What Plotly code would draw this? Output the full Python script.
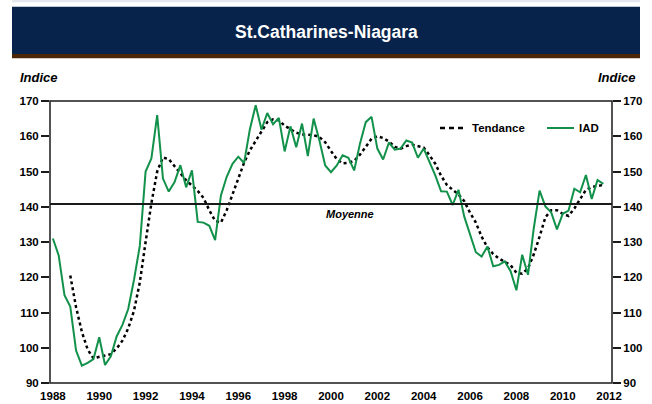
import plotly.graph_objects as go

# ---------------- data ----------------
START_YEAR = 1988
N_QUARTERS = 96  # 1988Q1 .. 2011Q4

iad = [131.0, 126.2, 114.9, 111.7, 99.2, 94.9, 95.7, 96.8, 103.0, 95.1,
       97.6, 103.2, 106.5, 111.0, 119.3, 128.9, 150.0, 153.7, 166.0, 148.0,
       144.3, 147.0, 151.8, 145.5, 150.3, 135.7, 135.5, 134.6, 130.5, 143.2,
       148.5, 152.2, 154.2, 152.4, 162.0, 168.8, 161.9, 166.6, 163.4, 165.2,
       155.7, 162.8, 156.9, 163.6, 154.4, 165.0, 158.8, 151.7, 149.8, 151.7,
       154.6, 153.9, 150.3, 157.9, 164.0, 165.5, 156.5, 153.4, 158.2, 156.2,
       156.5, 158.8, 158.2, 153.9, 156.5, 152.7, 148.9, 144.4, 144.3, 140.5,
       144.8, 137.2, 132.0, 127.1, 125.9, 128.7, 123.1, 123.5, 124.5, 121.7,
       116.3, 126.4, 120.7, 133.9, 144.6, 140.1, 138.4, 133.6, 138.0, 138.9,
       145.1, 144.1, 149.0, 142.2, 147.6, 146.5]

tendance = [None, None, None, 120.5, 111.5, 104.5, 99.5, 97.0, 97.3, 97.8,
            98.2, 99.8, 102.0, 105.5, 110.5, 118.5, 130.0, 141.0, 150.0, 154.0,
            153.5, 151.5, 149.5, 147.5, 146.0, 144.5, 142.5, 139.0, 136.0, 135.5,
            139.0, 143.5, 148.0, 152.5, 156.0, 158.8, 161.5, 164.0, 164.8, 164.5,
            163.0, 162.0, 161.0, 160.5, 160.3, 160.3, 159.8, 158.3, 155.8, 153.5,
            152.3, 152.5, 153.0, 154.8, 157.0, 159.3, 160.0, 159.5, 158.5, 157.0,
            156.5, 157.2, 157.6, 157.3, 156.8, 154.6, 152.2, 148.8, 146.2, 144.8,
            143.5, 141.6, 138.3, 135.5, 131.5, 128.5, 126.6, 125.3, 124.4, 123.4,
            121.3, 121.0, 122.5, 126.5, 131.5, 137.0, 139.0, 139.0, 138.0, 137.4,
            139.5, 142.3, 144.8, 145.6, 146.0, 146.2]

moyenne = 140.8

year_ticks = list(range(1988, 2013, 2))
y_ticks = list(range(90, 171, 10))

title_text = "St.Catharines-Niagara"
axis_label = "Indice"
mean_label = "Moyenne"
legend_labels = ["Tendance", "IAD"]

# quarterly positions
x = [START_YEAR + i / 4 for i in range(N_QUARTERS)]

# ---------------- layout geometry ----------------
W, H = 652, 404
L, R, T, B = 50, 40, 101, 21


def px(v):
    return (v - L) / (W - L - R)


def py(v):
    return (H - B - v) / (H - T - B)


GREEN = "#12914A"
NAVY = "#08234B"
BROWN = "#4A2606"
FONT = "Liberation Sans, Arial, sans-serif"

fig = go.Figure()

fig.add_trace(go.Scatter(
    x=x, y=tendance, mode="lines", name=legend_labels[0],
    line=dict(color="black", width=2.5, dash="3px,3px"),
    connectgaps=False, showlegend=False, yaxis="y"))

fig.add_trace(go.Scatter(
    x=x, y=iad, mode="lines", name=legend_labels[1],
    line=dict(color=GREEN, width=2), showlegend=False, yaxis="y"))

# invisible trace for right axis
fig.add_trace(go.Scatter(x=[x[0]], y=[moyenne], mode="markers",
                         marker=dict(opacity=0), yaxis="y2",
                         showlegend=False, hoverinfo="skip"))

shapes = []
# mean line
shapes.append(dict(type="line", xref="paper", yref="y", x0=0, x1=1,
                   y0=moyenne, y1=moyenne,
                   line=dict(color="#1a1a1a", width=2)))
# plot frame
shapes.append(dict(type="rect", xref="paper", yref="paper", x0=0, x1=1,
                   y0=0, y1=1, line=dict(color="#1a1a1a", width=1.5)))
# header
shapes.append(dict(type="rect", xref="paper", yref="paper",
                   x0=px(12), x1=px(640), y0=py(0), y1=py(2.3),
                   fillcolor="#E4E8EE", line=dict(width=0), layer="below"))
shapes.append(dict(type="rect", xref="paper", yref="paper",
                   x0=px(12), x1=px(640), y0=py(6.7), y1=py(54),
                   fillcolor=NAVY, line=dict(width=0), layer="below"))
shapes.append(dict(type="rect", xref="paper", yref="paper",
                   x0=px(12), x1=px(640), y0=py(54), y1=py(58.3),
                   fillcolor=BROWN, line=dict(width=0), layer="below"))
# legend samples
shapes.append(dict(type="line", xref="paper", yref="paper",
                   x0=px(440), x1=px(466), y0=py(128), y1=py(128),
                   line=dict(color="black", width=2.5, dash="5px,4px")))
shapes.append(dict(type="line", xref="paper", yref="paper",
                   x0=px(547), x1=px(574), y0=py(128), y1=py(128),
                   line=dict(color=GREEN, width=2)))

annotations = [
    dict(text=title_text, x=px(326), y=py(32), xref="paper", yref="paper",
         showarrow=False, xanchor="center", yanchor="middle",
         font=dict(family=FONT, size=17.5, color="white", weight="bold")),
    dict(text=axis_label, x=px(18), y=py(77.5), xref="paper", yref="paper",
         showarrow=False, xanchor="left", yanchor="middle",
         font=dict(family=FONT, size=13, color="black", weight="bold",
                   style="italic")),
    dict(text=axis_label, x=px(638), y=py(77.5), xref="paper", yref="paper",
         showarrow=False, xanchor="right", yanchor="middle",
         font=dict(family=FONT, size=13, color="black", weight="bold",
                   style="italic")),
    dict(text=mean_label, x=px(350), y=py(214), xref="paper", yref="paper",
         showarrow=False, xanchor="center", yanchor="middle",
         font=dict(family=FONT, size=11, color="black", weight="bold",
                   style="italic")),
    dict(text=legend_labels[0], x=px(470), y=py(128), xref="paper",
         yref="paper", showarrow=False, xanchor="left", yanchor="middle",
         font=dict(family=FONT, size=11.5, color="black", weight="bold")),
    dict(text=legend_labels[1], x=px(577), y=py(128), xref="paper",
         yref="paper", showarrow=False, xanchor="left", yanchor="middle",
         font=dict(family=FONT, size=11.5, color="black", weight="bold")),
]

axis_font = dict(family=FONT, size=11.5, color="black", weight="bold")

fig.update_layout(
    width=W, height=H,
    margin=dict(l=L, r=R, t=T, b=B, pad=0, autoexpand=False),
    paper_bgcolor="white", plot_bgcolor="white",
    showlegend=False,
    shapes=shapes, annotations=annotations,
    xaxis=dict(range=[START_YEAR - 0.125, year_ticks[-1] + 0.125],
               tickmode="array", tickvals=year_ticks,
               ticktext=[str(v) for v in year_ticks],
               showgrid=False, zeroline=False, showline=False,
               automargin=False,
               ticks="", tickfont=axis_font, ticklabelstandoff=4),
    yaxis=dict(range=[y_ticks[0], y_ticks[-1]], tickmode="array",
               tickvals=y_ticks, showgrid=False, zeroline=False,
               automargin=False,
               showline=False, ticks="outside", ticklen=8, tickwidth=1.5,
               tickcolor="#1a1a1a", tickfont=axis_font),
    yaxis2=dict(range=[y_ticks[0], y_ticks[-1]], tickmode="array",
                tickvals=y_ticks, overlaying="y", side="right",
                automargin=False,
                showgrid=False, zeroline=False, showline=False,
                ticks="outside", ticklen=8, tickwidth=1.5,
                tickcolor="#1a1a1a", tickfont=axis_font),
)

fig.write_html("out.html", config={"displayModeBar": False},
               post_script="document.body.style.margin='0';"
                           "document.body.style.overflow='hidden';")
